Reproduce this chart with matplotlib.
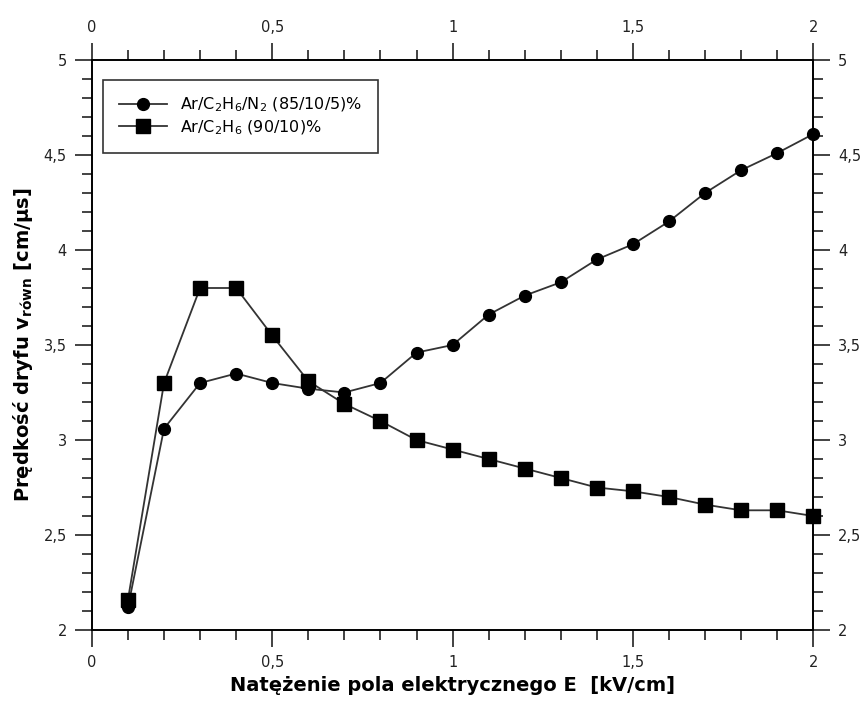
import matplotlib
matplotlib.use('Agg')
import matplotlib.pyplot as plt
from matplotlib.ticker import MultipleLocator, FuncFormatter

# Pole elektryczne E [kV/cm]
field = [0.1, 0.2, 0.3, 0.4, 0.5, 0.6, 0.7, 0.8, 0.9, 1.0,
         1.1, 1.2, 1.3, 1.4, 1.5, 1.6, 1.7, 1.8, 1.9, 2.0]

# Ar/C2H6/N2 (85/10/5)%
v_mix_n2 = [2.12, 3.06, 3.30, 3.35, 3.30, 3.27, 3.25, 3.30, 3.46, 3.50,
            3.66, 3.76, 3.83, 3.95, 4.03, 4.15, 4.30, 4.42, 4.51, 4.61]

# Ar/C2H6 (90/10)%
v_mix = [2.16, 3.30, 3.80, 3.80, 3.55, 3.31, 3.19, 3.10, 3.00, 2.95,
         2.90, 2.85, 2.80, 2.75, 2.73, 2.70, 2.66, 2.63, 2.63, 2.60]

labels = ['Ar/C$_2$H$_6$/N$_2$ (85/10/5)%', 'Ar/C$_2$H$_6$ (90/10)%']


def comma_fmt(v, pos):
    s = ('%g' % round(v, 3))
    return s.replace('.', ',')


fig = plt.figure(figsize=(8.67, 7.09), dpi=100)
ax = fig.add_axes([0.106, 0.1114, 0.832, 0.804])

ax.plot(field, v_mix_n2, color='#333333', lw=1.3, marker='o', ms=8.5,
        mfc='black', mec='black', label=labels[0], clip_on=False, zorder=3)
ax.plot(field, v_mix, color='#333333', lw=1.3, marker='s', ms=10,
        mfc='black', mec='black', label=labels[1], clip_on=False, zorder=3)

ax.set_xlim(0, 2)
ax.set_ylim(2, 5)

for a in [ax.xaxis, ax.yaxis]:
    a.set_major_formatter(FuncFormatter(comma_fmt))
ax.xaxis.set_major_locator(MultipleLocator(0.5))
ax.xaxis.set_minor_locator(MultipleLocator(0.1))
ax.yaxis.set_major_locator(MultipleLocator(0.5))
ax.yaxis.set_minor_locator(MultipleLocator(0.1))

ax.tick_params(which='both', direction='out', top=True, right=True,
               labeltop=True, labelright=True, labelsize=10.5, width=1.2,
               colors='#222222', pad=6)
ax.tick_params(which='major', length=12)
ax.tick_params(which='minor', length=7)
for sp in ax.spines.values():
    sp.set_linewidth(1.4)

ax.set_xlabel('Natężenie pola elektrycznego E  [kV/cm]', fontsize=14,
              fontweight='bold', labelpad=4)
ax.set_ylabel('Prędkość dryfu v$_{\\mathregular{równ}}$ [cm/µs]', fontsize=14,
              fontweight='bold', labelpad=6)

leg = ax.legend(loc='upper left', bbox_to_anchor=(0.0153, 0.965), fontsize=11.5,
                frameon=True, fancybox=False, edgecolor='black',
                borderpad=1.0, borderaxespad=0, handlelength=3.0,
                labelspacing=0.25)
leg.get_frame().set_linewidth(1.2)

plt.savefig('out.png', dpi=100)
